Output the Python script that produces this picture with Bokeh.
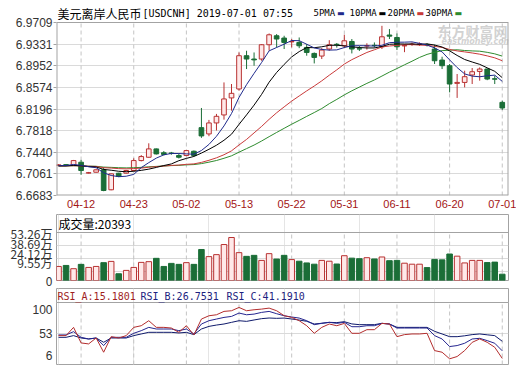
from bokeh.plotting import figure
from bokeh.layouts import column
from bokeh.models import Range1d, FixedTicker, NumeralTickFormatter, Span, Label, Grid, ColumnDataSource
from bokeh.embed import file_html
from bokeh.resources import INLINE

# ---------------- data ----------------
dates = ["04-09", "04-10", "04-11", "04-12", "04-15", "04-16", "04-17", "04-18", "04-19", "04-22",
         "04-23", "04-24", "04-25", "04-26", "04-29", "04-30", "05-01", "05-02", "05-03", "05-06",
         "05-07", "05-08", "05-09", "05-10", "05-13", "05-14", "05-15", "05-16", "05-17", "05-20",
         "05-21", "05-22", "05-23", "05-24", "05-27", "05-28", "05-29", "05-30", "05-31", "06-03",
         "06-04", "06-05", "06-06", "06-07", "06-10", "06-11", "06-12", "06-13", "06-14", "06-17",
         "06-18", "06-19", "06-20", "06-21", "06-24", "06-25", "06-26", "06-27", "06-28", "07-01"]

opens = [6.7212, 6.7222, 6.7207, 6.7265, 6.7075, 6.7090, 6.7132, 6.6783, 6.7073, 6.7073,
         6.7120, 6.7294, 6.7352, 6.7498, 6.7431, 6.7425, 6.7382, 6.7382, 6.7457, 6.7870,
         6.7760, 6.7952, 6.8092, 6.8390, 6.8546, 6.9128, 6.9070, 6.9070, 6.9320, 6.9477,
         6.9437, 6.9370, 6.9360, 6.9273, 6.9168, 6.9122, 6.9245, 6.9328, 6.9302, 6.9377,
         6.9250, 6.9298, 6.9310, 6.9285, 6.9490, 6.9447, 6.9300, 6.9326, 6.9330, 6.9322,
         6.9245, 6.9052, 6.8953, 6.8644, 6.8661, 6.8791, 6.8853, 6.8895, 6.8725, 6.8312]
highs = [6.7230, 6.7232, 6.7305, 6.7306, 6.7095, 6.7140, 6.7177, 6.7070, 6.7080, 6.7130,
         6.7334, 6.7390, 6.7596, 6.7505, 6.7460, 6.7445, 6.7420, 6.7480, 6.7470, 6.8214,
         6.8005, 6.8110, 6.8661, 6.8633, 6.9185, 6.9215, 6.9185, 6.9332, 6.9517, 6.9506,
         6.9477, 6.9420, 6.9447, 6.9332, 6.9185, 6.9262, 6.9400, 6.9350, 6.9494, 6.9420,
         6.9300, 6.9345, 6.9360, 6.9651, 6.9594, 6.9517, 6.9332, 6.9360, 6.9360, 6.9345,
         6.9320, 6.9110, 6.8983, 6.8808, 6.8866, 6.8913, 6.8923, 6.8905, 6.8780, 6.8342]
lows = [6.7205, 6.7208, 6.7200, 6.7045, 6.7070, 6.7085, 6.6758, 6.6775, 6.7005, 6.7065,
        6.7110, 6.7280, 6.7345, 6.7400, 6.7385, 6.7395, 6.7330, 6.7370, 6.7370, 6.7691,
        6.7720, 6.7820, 6.8010, 6.8167, 6.8517, 6.8895, 6.8953, 6.9040, 6.9215, 6.9273,
        6.9245, 6.9273, 6.9260, 6.9128, 6.8993, 6.9070, 6.9215, 6.9270, 6.9262, 6.9168,
        6.9210, 6.9235, 6.9270, 6.9245, 6.9420, 6.9227, 6.9190, 6.9300, 6.9300, 6.9290,
        6.8983, 6.8895, 6.8487, 6.8390, 6.8574, 6.8633, 6.8691, 6.8700, 6.8633, 6.8180]
closes = [6.7218, 6.7216, 6.7294, 6.7120, 6.7082, 6.7132, 6.6771, 6.7062, 6.7015, 6.7120,
          6.7294, 6.7364, 6.7498, 6.7411, 6.7402, 6.7420, 6.7352, 6.7469, 6.7382, 6.7725,
          6.7952, 6.8068, 6.8372, 6.8470, 6.9128, 6.9070, 6.9055, 6.9320, 6.9494, 6.9420,
          6.9360, 6.9377, 6.9302, 6.9185, 6.9098, 6.9227, 6.9320, 6.9322, 6.9389, 6.9245,
          6.9245, 6.9302, 6.9305, 6.9459, 6.9470, 6.9285, 6.9305, 6.9330, 6.9332, 6.9318,
          6.9040, 6.8953, 6.8633, 6.8661, 6.8761, 6.8848, 6.8895, 6.8720, 6.8718, 6.8214]

# volume, in 万
volumes = [15.6, 16.7, 13.1, 17.9, 14.5, 15.6, 19.8, 21.2, 7.5, 11.2,
           14.5, 20.1, 20.9, 24.6, 15.6, 19.0, 17.9, 19.8, 17.9, 34.4,
           26.5, 28.7, 39.9, 47.7, 30.9, 26.8, 27.9, 22.3, 29.8, 23.8,
           27.9, 23.2, 21.4, 19.5, 18.1, 22.3, 21.4, 18.3, 27.5, 24.8,
           24.2, 25.3, 23.9, 26.1, 22.0, 22.3, 19.2, 18.1, 18.1, 14.3,
           23.4, 22.9, 29.4, 27.0, 19.5, 22.3, 22.3, 19.9, 20.4, 7.0]

ma5 = [6.7204, 6.7207, 6.7226, 6.7210, 6.7186, 6.7169, 6.7080, 6.7033, 6.7012, 6.7020,
       6.7052, 6.7171, 6.7258, 6.7337, 6.7394, 6.7419, 6.7417, 6.7411, 6.7405, 6.7470,
       6.7576, 6.7719, 6.7900, 6.8117, 6.8398, 6.8622, 6.8819, 6.9009, 6.9213, 6.9272,
       6.9330, 6.9394, 6.9391, 6.9329, 6.9264, 6.9238, 6.9226, 6.9230, 6.9271, 6.9301,
       6.9304, 6.9301, 6.9297, 6.9311, 6.9356, 6.9364, 6.9365, 6.9370, 6.9344, 6.9314,
       6.9265, 6.9195, 6.9055, 6.8921, 6.8810, 6.8771, 6.8760, 6.8777, 6.8788, 6.8679]
ma10 = [6.7201, 6.7201, 6.7211, 6.7202, 6.7189, 6.7182, 6.7139, 6.7125, 6.7107, 6.7099,
        6.7107, 6.7123, 6.7144, 6.7174, 6.7207, 6.7235, 6.7292, 6.7332, 6.7366, 6.7425,
        6.7491, 6.7562, 6.7649, 6.7755, 6.7927, 6.8093, 6.8264, 6.8451, 6.8665, 6.8835,
        6.8976, 6.9107, 6.9200, 6.9271, 6.9268, 6.9284, 6.9310, 6.9311, 6.9300, 6.9283,
        6.9271, 6.9264, 6.9264, 6.9291, 6.9328, 6.9334, 6.9333, 6.9334, 6.9328, 6.9335,
        6.9315, 6.9280, 6.9213, 6.9133, 6.9062, 6.9018, 6.8977, 6.8916, 6.8855, 6.8744]
ma20 = [6.7200, 6.7201, 6.7205, 6.7201, 6.7195, 6.7191, 6.7169, 6.7163, 6.7153, 6.7149,
        6.7154, 6.7162, 6.7177, 6.7188, 6.7198, 6.7209, 6.7216, 6.7228, 6.7236, 6.7262,
        6.7299, 6.7342, 6.7396, 6.7464, 6.7567, 6.7664, 6.7778, 6.7891, 6.8015, 6.8130,
        6.8233, 6.8334, 6.8424, 6.8513, 6.8598, 6.8688, 6.8787, 6.8881, 6.8982, 6.9059,
        6.9123, 6.9185, 6.9232, 6.9281, 6.9298, 6.9309, 6.9322, 6.9322, 6.9314, 6.9309,
        6.9293, 6.9272, 6.9238, 6.9212, 6.9195, 6.9176, 6.9155, 6.9125, 6.9091, 6.9040]
ma30 = [6.7200, 6.7200, 6.7204, 6.7201, 6.7196, 6.7194, 6.7180, 6.7175, 6.7169, 6.7166,
        6.7169, 6.7175, 6.7185, 6.7192, 6.7199, 6.7206, 6.7210, 6.7219, 6.7224, 6.7241,
        6.7266, 6.7295, 6.7334, 6.7377, 6.7441, 6.7503, 6.7565, 6.7636, 6.7712, 6.7786,
        6.7858, 6.7930, 6.7997, 6.8067, 6.8134, 6.8204, 6.8289, 6.8364, 6.8443, 6.8514,
        6.8579, 6.8644, 6.8704, 6.8772, 6.8841, 6.8904, 6.8969, 6.9032, 6.9098, 6.9151,
        6.9187, 6.9217, 6.9225, 6.9232, 6.9219, 6.9212, 6.9207, 6.9187, 6.9161, 6.9121]

rsi_a = [49.8, 49.8, 62.3, 38.7, 37.2, 46.2, 24.6, 48.2, 46.2, 49.8,
         62.3, 64.8, 72.4, 62.3, 62.3, 61.3, 54.8, 64.8, 50.8, 74.9,
         79.9, 81.4, 86.5, 87.5, 92.5, 87.5, 89.0, 90.0, 91.5, 87.5,
         80.0, 77.4, 72.4, 64.8, 53.3, 62.3, 67.4, 64.8, 68.3, 53.3,
         53.3, 58.8, 58.8, 68.3, 67.4, 48.2, 51.3, 52.3, 52.3, 53.3,
         27.1, 24.6, 14.6, 18.1, 27.1, 39.6, 44.8, 39.6, 32.1, 15.18]
rsi_b = [50.8, 50.8, 55.8, 47.2, 44.7, 46.2, 34.7, 47.2, 47.2, 47.2,
         53.3, 57.3, 62.3, 59.8, 59.8, 59.8, 57.3, 59.8, 52.3, 67.4,
         72.4, 74.9, 77.4, 78.9, 84.0, 81.4, 82.4, 85.0, 86.5, 83.0,
         79.9, 78.0, 76.4, 72.4, 66.4, 68.4, 69.9, 68.4, 69.9, 63.3,
         63.3, 64.8, 64.8, 68.4, 67.4, 61.3, 61.3, 61.3, 61.3, 61.3,
         49.8, 44.7, 33.2, 34.7, 38.2, 44.7, 45.7, 42.2, 38.2, 26.75]
rsi_c = [47.2, 47.2, 49.8, 46.2, 44.7, 46.2, 39.7, 46.2, 46.2, 46.2,
         49.8, 52.3, 54.8, 54.8, 54.8, 54.8, 53.8, 54.8, 51.3, 59.8,
         63.8, 65.8, 67.4, 69.9, 72.4, 71.4, 73.5, 75.5, 76.5, 76.0,
         76.4, 75.0, 73.4, 71.5, 67.4, 68.5, 69.9, 69.5, 70.9, 67.5,
         66.4, 66.4, 66.4, 68.4, 67.4, 62.3, 62.3, 62.3, 62.3, 62.3,
         56.3, 52.3, 48.2, 48.2, 49.5, 51.3, 52.3, 51.0, 49.8, 41.19]

x_tick_dates = ["04-12", "04-23", "05-02", "05-13", "05-22", "05-31", "06-11", "06-20", "07-01"]
price_ticks = ["6.9709", "6.9331", "6.8952", "6.8574", "6.8196", "6.7818", "6.7440", "6.7061", "6.6683"]
vol_ticks = ["53.26万", "38.69万", "24.12万", "9.55万", "0"]
rsi_ticks = ["100", "53", "6"]

title_name = "美元离岸人民币"
title_code = "[USDCNH] 2019-07-01 07:55"
ma_names = ["5PMA", "10PMA", "20PMA", "30PMA"]
vol_title = "成交量:20393"
rsi_titles = ["RSI_A:15.1801", "RSI_B:26.7531", "RSI_C:41.1910"]
watermark = ["东方财富网", "eastmoney.com"]

# ---------------- styles / layout ----------------
FRAME = "#a3a3a3"
HGRID = "#dadada"
VGRID = "#c4c4c4"
UP_LINE = "#b83131"
UP_FILL = "#ffe9e9"
DOWN = "#1b6e37"
MA_COLORS = ["#1f2a8c", "#000000", "#c93a3a", "#2e8b2e"]
RSI_COLORS = ["#b32d2d", "#25258f", "#0f1a6b"]
RSI_TXT = ["#a01e1e", "#1c2280", "#1c2280"]
XLAB = "#a31515"
YLAB = "#333333"
MONO = "DejaVu Sans Mono"
CJK = "Noto Sans CJK SC"
SANS = "Liberation Sans"

W = 516
FRAME_L, FRAME_R = 56, 8
# main: frame covers title strip (22px) + price area (173px)
MAIN_H, MAIN_FRAME, MAIN_PRICE = 214, 195, 173
# volume: frame 66px, data area 48px
VOL_H, VOL_FRAME, VOL_DATA = 74, 66, 48
# rsi: frame 76px, data area 62px
RSI_H, RSI_FRAME, RSI_DATA = 77, 76, 62

n = len(dates)
xs = list(range(n))
is_up = [c > o for o, c in zip(opens, closes)]
src = ColumnDataSource(dict(
    x=xs, high=highs, low=lows,
    top=[max(o, c) for o, c in zip(opens, closes)],
    bottom=[min(o, c) for o, c in zip(opens, closes)],
    line=[UP_LINE if u else DOWN for u in is_up],
    fill=[UP_FILL if u else DOWN for u in is_up],
    vol=volumes,
))
tick_idx = [dates.index(d) for d in x_tick_dates]
price_vals = [float(t) for t in price_ticks]
vol_vals = [float(t.replace("万", "")) for t in vol_ticks]
rsi_vals = [float(t) for t in rsi_ticks]

XL, XR = -0.27, 59.83
x_range = Range1d(XL, XR)
common = dict(width=W, toolbar_location=None, output_backend="svg", tools="",
              min_border_left=FRAME_L, min_border_right=FRAME_R, title=None,
              background_fill_color="white", border_fill_color="white")


def lab(fig, x, y, text, xo=0, yo=0, font=SANS, size="12px", color="#000000",
        align="left", baseline="middle", style="normal", level="annotation"):
    fig.add_layout(Label(x=x, y=y, x_offset=xo, y_offset=yo, text=text,
                         text_font=font, text_font_size=size, text_color=color,
                         text_align=align, text_baseline=baseline,
                         text_font_style=style, level=level))


def style_label_axis(ax, ticks, labels):
    ax.ticker = FixedTicker(ticks=ticks)
    ax.major_label_overrides = {t: s for t, s in zip(ticks, labels)}
    ax.axis_line_color = None
    ax.major_tick_line_color = None
    ax.minor_tick_line_color = None
    ax.major_tick_out = 0
    ax.major_tick_in = 0
    ax.major_label_standoff = 4
    ax.major_label_text_color = YLAB
    ax.major_label_text_font_size = "12px"


# ---------------- main (candles) ----------------
lo, hi = min(price_vals), max(price_vals)
p = figure(height=MAIN_H, x_range=x_range,
           y_range=Range1d(lo, lo + (hi - lo) * MAIN_FRAME / MAIN_PRICE),
           min_border_top=0, min_border_bottom=MAIN_H - MAIN_FRAME,
           outline_line_color=None, **common)
xt = FixedTicker(ticks=tick_idx)
yt = FixedTicker(ticks=price_vals)
p.xaxis.ticker = xt
p.yaxis.ticker = yt
p.xgrid.visible = False
p.ygrid.ticker = yt
p.ygrid.grid_line_color = HGRID
p.xaxis.major_label_overrides = {i: d for i, d in zip(tick_idx, x_tick_dates)}
p.yaxis.formatter = NumeralTickFormatter(format="0.0000")
for ax in (p.xaxis, p.yaxis):
    ax.axis_line_color = None
    ax.minor_tick_line_color = None
p.xaxis.major_tick_line_color = None
p.xaxis.major_tick_out = 0
p.xaxis.major_label_standoff = 4
p.xaxis.major_label_text_color = XLAB
p.xaxis.major_label_text_font = SANS
p.xaxis.major_label_text_font_size = "11px"
p.yaxis.major_tick_line_color = FRAME
p.yaxis.major_tick_out = 3
p.yaxis.major_tick_in = 0
p.yaxis.major_label_standoff = 1
p.yaxis.major_label_text_color = YLAB
p.yaxis.major_label_text_font = SANS
p.yaxis.major_label_text_font_size = "12px"

# dashed vertical grid inside the price box
p.segment(x0=tick_idx, y0=[lo] * len(tick_idx), x1=tick_idx, y1=[hi] * len(tick_idx),
          line_color=VGRID, line_dash="4 3", line_width=1)

lab(p, XL, hi, watermark[0], xo=381, yo=-8.5, font=CJK, size="14px",
    color="#d2d2d2", style="bold", level="underlay")
lab(p, XL, hi, watermark[1], xo=385, yo=-19, font="DejaVu Sans", size="8px",
    color="#d2d2d2", style="bold italic", level="underlay")

p.segment(x0="x", y0="low", x1="x", y1="high", line_color="line", line_width=1, source=src)
p.vbar(x="x", width=0.62, top="top", bottom="bottom", fill_color="fill",
       line_color="line", line_width=1, source=src)
for series, col in zip([ma30, ma20, ma10, ma5], MA_COLORS[::-1]):
    p.line(xs, series, line_color=col, line_width=1)

# price box border
p.add_layout(Span(location=hi, dimension="width", line_color=FRAME, line_width=1))
p.add_layout(Span(location=lo, dimension="width", line_color=FRAME, line_width=2))
p.segment(x0=[XL, XR], y0=[lo, lo], x1=[XL, XR], y1=[hi, hi], line_color=FRAME, line_width=2)

# title strip
lab(p, XL, hi, title_name, xo=1, yo=9.3, font=CJK, size="12px")
lab(p, XL, hi, title_code, xo=86, yo=9.3, font=MONO, size="10px")
for name, col, xo in zip(ma_names, MA_COLORS, [257, 293, 331, 369]):
    lab(p, XL, hi, name, xo=xo, yo=9.3, font=MONO, size="9px")
    lab(p, XL, hi, "▬", xo=xo + len(name) * 5.4 + 2, yo=9.3, font="DejaVu Sans",
        size="8px", color=col)

# ---------------- volume ----------------
vol_top = max(vol_vals)
vol_ppu = VOL_DATA / vol_top
pv = figure(height=VOL_H, x_range=x_range,
            y_range=Range1d(0, vol_top * VOL_FRAME / VOL_DATA),
            min_border_top=0, min_border_bottom=VOL_H - VOL_FRAME,
            x_axis_location=None, outline_line_color=FRAME, **common)
vol_nudge_px = [-1, 2.1, 5.3, 9.1, 0]
style_label_axis(pv.yaxis, [round(v + d / vol_ppu, 3) for v, d in zip(vol_vals, vol_nudge_px)],
                 vol_ticks)
pv.yaxis.major_label_text_font = CJK
pv.ygrid.visible = False
pv.add_layout(Grid(dimension=1, ticker=FixedTicker(ticks=vol_vals[1:-1]),
                   grid_line_color=HGRID))
pv.segment(x0=tick_idx, y0=[0] * len(tick_idx), x1=tick_idx, y1=[vol_top] * len(tick_idx),
           line_color=VGRID, line_dash="4 3", line_width=1)
pv.vbar(x="x", width=0.74, top="vol", bottom=0, fill_color="fill", line_color="line",
        line_width=1, source=src)
pv.add_layout(Span(location=vol_top, dimension="width", line_color=FRAME, line_width=1))
lab(pv, XL, vol_top, vol_title, xo=2, yo=9, font=CJK, size="12px")

# ---------------- RSI ----------------
r_lo, r_hi = min(rsi_vals), max(rsi_vals)
rsi_ppu = RSI_DATA / (r_hi - r_lo)
pr = figure(height=RSI_H, x_range=x_range,
            y_range=Range1d(r_lo, r_lo + (r_hi - r_lo) * RSI_FRAME / RSI_DATA),
            min_border_top=0, min_border_bottom=RSI_H - RSI_FRAME,
            x_axis_location=None, outline_line_color=FRAME, **common)
rsi_nudge_px = [-7, -0.3, 9]
style_label_axis(pr.yaxis, [round(v + d / rsi_ppu, 3) for v, d in zip(rsi_vals, rsi_nudge_px)],
                 rsi_ticks)
pr.yaxis.major_label_text_font = SANS
pr.ygrid.visible = False
pr.add_layout(Grid(dimension=1, ticker=FixedTicker(ticks=rsi_vals), grid_line_color=HGRID))
pr.segment(x0=tick_idx, y0=[r_lo] * len(tick_idx), x1=tick_idx, y1=[r_hi] * len(tick_idx),
           line_color=VGRID, line_dash="4 3", line_width=1)
for series, col in zip([rsi_c, rsi_b, rsi_a], RSI_COLORS[::-1]):
    pr.line(xs, series, line_color=col, line_width=1)
pr.add_layout(Span(location=r_hi, dimension="width", line_color=FRAME, line_width=1))
for t, col, xo in zip(rsi_titles, RSI_TXT, [1, 84, 170]):
    lab(pr, XL, r_hi, t, xo=xo, yo=6.5, font=MONO, size="10px", color=col)

layout = column(p, pv, pr, spacing=0)
with open("out.html", "w", encoding="utf-8") as f:
    f.write(file_html(layout, INLINE))
